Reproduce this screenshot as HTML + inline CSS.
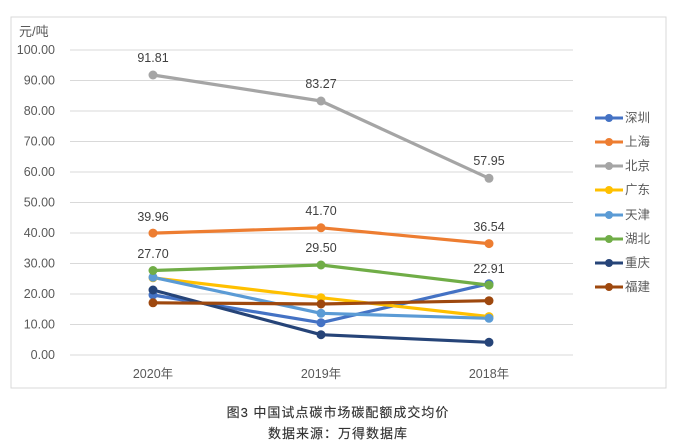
<!DOCTYPE html>
<html><head><meta charset="utf-8"><style>
html,body{margin:0;padding:0;background:#fff;}
svg{display:block;}
text{font-family:"Liberation Sans","Noto Sans CJK SC",sans-serif;}
</style></head><body>
<svg width="692" height="448" viewBox="0 0 692 448" xmlns="http://www.w3.org/2000/svg">
<rect x="11" y="17" width="655" height="371" fill="#fff" stroke="#d9d9d9" stroke-width="1"/>
<g stroke="#d9d9d9" stroke-width="1">
<line x1="70" x2="573" y1="50" y2="50"/>
<line x1="70" x2="573" y1="80.5" y2="80.5"/>
<line x1="70" x2="573" y1="111" y2="111"/>
<line x1="70" x2="573" y1="141.5" y2="141.5"/>
<line x1="70" x2="573" y1="172" y2="172"/>
<line x1="70" x2="573" y1="202.5" y2="202.5"/>
<line x1="70" x2="573" y1="233" y2="233"/>
<line x1="70" x2="573" y1="263.5" y2="263.5"/>
<line x1="70" x2="573" y1="294" y2="294"/>
<line x1="70" x2="573" y1="324.5" y2="324.5"/>
<line x1="70" x2="573" y1="355" y2="355"/>
</g>
<g font-size="12.5" fill="#595959" text-anchor="end">
<text x="55" y="54">100.00</text>
<text x="55" y="84.5">90.00</text>
<text x="55" y="115">80.00</text>
<text x="55" y="145.5">70.00</text>
<text x="55" y="176">60.00</text>
<text x="55" y="206.5">50.00</text>
<text x="55" y="237">40.00</text>
<text x="55" y="267.5">30.00</text>
<text x="55" y="298">20.00</text>
<text x="55" y="328.5">10.00</text>
<text x="55" y="359">0.00</text>
</g>
<text x="19" y="36" font-size="13" fill="#595959">元/吨</text>
<g font-size="12.5" fill="#595959" text-anchor="middle">
<text x="153" y="378">2020年</text>
<text x="321" y="378">2019年</text>
<text x="489" y="378">2018年</text>
</g>
<g fill="none" stroke-width="3.2" stroke-linejoin="round">
<polyline stroke="#4472C4" points="153,295 321,322.7 489,283.7"/>
<polyline stroke="#ED7D31" points="153,233.1 321,227.8 489,243.6"/>
<polyline stroke="#A5A5A5" points="153,75 321,101 489,178.3"/>
<polyline stroke="#FFC000" points="153,277.8 321,297.7 489,316.6"/>
<polyline stroke="#5B9BD5" points="153,277.3 321,313.3 489,318.3"/>
<polyline stroke="#70AD47" points="153,270.5 321,265 489,285.1"/>
<polyline stroke="#264478" points="153,290 321,334.7 489,342.3"/>
<polyline stroke="#9E480E" points="153,302.8 321,304 489,300.7"/>
</g>
<g>
<g fill="#4472C4"><circle cx="153" cy="295" r="4.5"/><circle cx="321" cy="322.7" r="4.5"/><circle cx="489" cy="283.7" r="4.5"/></g>
<g fill="#ED7D31"><circle cx="153" cy="233.1" r="4.5"/><circle cx="321" cy="227.8" r="4.5"/><circle cx="489" cy="243.6" r="4.5"/></g>
<g fill="#A5A5A5"><circle cx="153" cy="75" r="4.5"/><circle cx="321" cy="101" r="4.5"/><circle cx="489" cy="178.3" r="4.5"/></g>
<g fill="#FFC000"><circle cx="153" cy="277.8" r="4.5"/><circle cx="321" cy="297.7" r="4.5"/><circle cx="489" cy="316.6" r="4.5"/></g>
<g fill="#5B9BD5"><circle cx="153" cy="277.3" r="4.5"/><circle cx="321" cy="313.3" r="4.5"/><circle cx="489" cy="318.3" r="4.5"/></g>
<g fill="#70AD47"><circle cx="153" cy="270.5" r="4.5"/><circle cx="321" cy="265" r="4.5"/><circle cx="489" cy="285.1" r="4.5"/></g>
<g fill="#264478"><circle cx="153" cy="290" r="4.5"/><circle cx="321" cy="334.7" r="4.5"/><circle cx="489" cy="342.3" r="4.5"/></g>
<g fill="#9E480E"><circle cx="153" cy="302.8" r="4.5"/><circle cx="321" cy="304" r="4.5"/><circle cx="489" cy="300.7" r="4.5"/></g>
</g>
<g font-size="12.5" fill="#404040" text-anchor="middle">
<text x="153" y="62">91.81</text>
<text x="321" y="88">83.27</text>
<text x="489" y="165">57.95</text>
<text x="153" y="221">39.96</text>
<text x="321" y="215">41.70</text>
<text x="489" y="231">36.54</text>
<text x="153" y="258">27.70</text>
<text x="321" y="252">29.50</text>
<text x="489" y="273">22.91</text>
</g>
<g stroke-width="3">
<line x1="595" x2="623" y1="118" y2="118" stroke="#4472C4"/><circle cx="609" cy="118" r="4" fill="#4472C4"/>
<line x1="595" x2="623" y1="142" y2="142" stroke="#ED7D31"/><circle cx="609" cy="142" r="4" fill="#ED7D31"/>
<line x1="595" x2="623" y1="166" y2="166" stroke="#A5A5A5"/><circle cx="609" cy="166" r="4" fill="#A5A5A5"/>
<line x1="595" x2="623" y1="190" y2="190" stroke="#FFC000"/><circle cx="609" cy="190" r="4" fill="#FFC000"/>
<line x1="595" x2="623" y1="215" y2="215" stroke="#5B9BD5"/><circle cx="609" cy="215" r="4" fill="#5B9BD5"/>
<line x1="595" x2="623" y1="239" y2="239" stroke="#70AD47"/><circle cx="609" cy="239" r="4" fill="#70AD47"/>
<line x1="595" x2="623" y1="263" y2="263" stroke="#264478"/><circle cx="609" cy="263" r="4" fill="#264478"/>
<line x1="595" x2="623" y1="287" y2="287" stroke="#9E480E"/><circle cx="609" cy="287" r="4" fill="#9E480E"/>
</g>
<g font-size="12.5" fill="#595959">
<text x="625" y="122">深圳</text>
<text x="625" y="146">上海</text>
<text x="625" y="170">北京</text>
<text x="625" y="194">广东</text>
<text x="625" y="219">天津</text>
<text x="625" y="243">湖北</text>
<text x="625" y="267">重庆</text>
<text x="625" y="291">福建</text>
</g>
<g font-size="13" fill="#333" stroke="#333" stroke-width="0.15" text-anchor="middle" letter-spacing="1">
<text x="338" y="417">图3 中国试点碳市场碳配额成交均价</text>
<text x="338" y="438">数据来源：万得数据库</text>
</g>
</svg>
</body></html>
